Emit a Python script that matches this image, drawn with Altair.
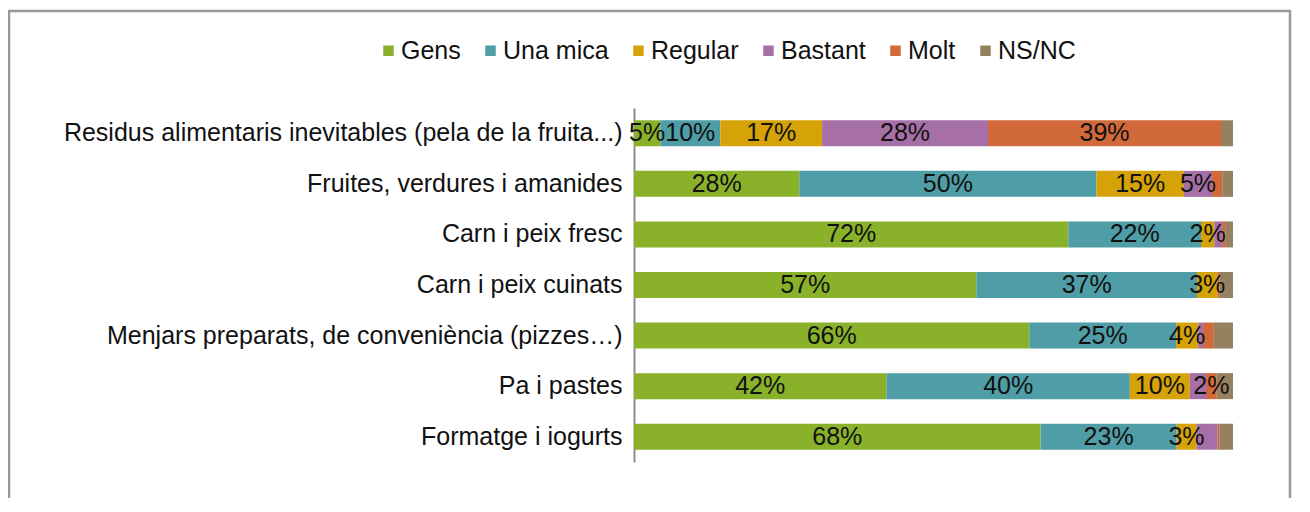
import altair as alt
import pandas as pd

categories = [
    "Residus alimentaris inevitables (pela de la fruita...)",
    "Fruites, verdures i amanides",
    "Carn i peix fresc",
    "Carn i peix cuinats",
    "Menjars preparats, de conveniència (pizzes…)",
    "Pa i pastes",
    "Formatge i iogurts",
]
series = ["Gens", "Una mica", "Regular", "Bastant", "Molt", "NS/NC"]
colors = ["#8AB12A", "#4F9DA6", "#D5A208", "#A66FA7", "#D2693A", "#95805F"]

gens = [4.4, 27.6, 72.0, 57.1, 66.0, 42.1, 67.8]
una_mica = [10.0, 49.6, 22.0, 36.8, 24.5, 40.6, 22.7]
regular = [17.0, 14.6, 2.2, 3.4, 3.7, 10.0, 3.3]
bastant = [27.7, 4.7, 1.3, 0.0, 0.8, 2.7, 3.5]
molt = [38.9, 1.7, 0.5, 0.3, 1.8, 1.8, 0.3]
ns_nc = [2.0, 1.8, 1.3, 2.3, 3.2, 2.7, 2.3]

gens_lbl = ["5%", "28%", "72%", "57%", "66%", "42%", "68%"]
una_mica_lbl = ["10%", "50%", "22%", "37%", "25%", "40%", "23%"]
regular_lbl = ["17%", "15%", "2%", "3%", "4%", "10%", "3%"]
bastant_lbl = ["28%", "5%", "", "", "", "", ""]
molt_lbl = ["39%", "", "", "", "", "2%", ""]
ns_nc_lbl = ["", "", "", "", "", "", ""]

values = [gens, una_mica, regular, bastant, molt, ns_nc]
labels = [gens_lbl, una_mica_lbl, regular_lbl, bastant_lbl, molt_lbl, ns_nc_lbl]

rows = []
for si, (s, vals, lbls) in enumerate(zip(series, values, labels)):
    for ci, c in enumerate(categories):
        rows.append({"cat": c, "series": s, "order": si, "value": vals[ci], "label": lbls[ci]})
df = pd.DataFrame(rows)

FONT = "Liberation Sans"

base = alt.Chart(df).transform_stack(
    stack="value",
    groupby=["cat"],
    as_=["x0", "x1"],
    sort=[alt.SortField("order")],
    offset="normalize",
).transform_calculate(xm="(datum.x0 + datum.x1) / 2")

y_enc = alt.Y(
    "cat:N",
    sort=categories,
    scale=alt.Scale(paddingInner=0.486, paddingOuter=0.243),
    axis=alt.Axis(
        title=None,
        ticks=False,
        labelFontSize=25,
        labelFont=FONT,
        labelColor="#111111",
        labelPadding=12,
        labelLimit=800,
        domainColor="#8c8c8c",
        domainWidth=2,
        grid=False,
    ),
)

bars = base.mark_bar().encode(
    x=alt.X("x0:Q", axis=None, scale=alt.Scale(domain=[0, 1])),
    x2="x1:Q",
    y=y_enc,
    color=alt.Color(
        "series:N",
        scale=alt.Scale(domain=series, range=colors),
        legend=alt.Legend(
            orient="none",
            legendX=-258,
            legendY=-70,
            direction="horizontal",
            title=None,
            symbolType="square",
            symbolSize=110,
            symbolStrokeWidth=0,
            labelFontSize=25,
            labelFont=FONT,
            labelColor="#111111",
            columnPadding=17,
            labelOffset=0,
            padding=0,
        ),
    ),
    order=alt.Order("order:Q"),
)

text = base.mark_text(fontSize=25, font=FONT, color="#111111", baseline="middle").encode(
    x=alt.X("xm:Q"),
    y=y_enc,
    text="label:N",
)

frame = alt.Chart(alt.Data(values=[{}])).mark_rect(
    filled=False, stroke="#999999", strokeWidth=2.5
).encode(
    x=alt.value(-625),
    x2=alt.value(656),
    y=alt.value(-97),
    y2=alt.value(520),
)

chart = alt.layer(frame, bars, text).properties(
    width=599,
    height=354,
    autosize=alt.AutoSizeParams(type="none"),
    padding={"left": 626, "top": 100, "right": 66, "bottom": 36},
).configure_view(strokeOpacity=0)

chart.save("out.html", embed_options={"renderer": "svg", "actions": False})
